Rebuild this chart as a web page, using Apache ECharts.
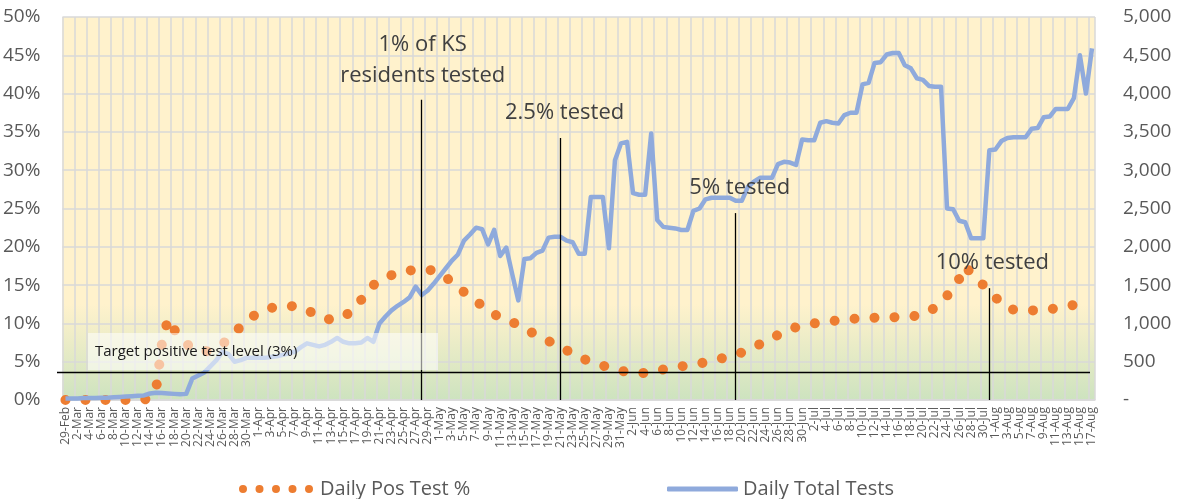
<!DOCTYPE html>
<html>
<head>
<meta charset="utf-8">
<script src="https://cdn.jsdelivr.net/npm/echarts@6/dist/echarts.min.js"></script>
<style>
html,body{margin:0;padding:0;background:#fff;}
#chart{width:1191px;height:499px;}
</style>
</head>
<body>
<div id="chart"></div>
<script>
// ---- Data ----
const monthSpans = [['Feb', 29, 29], ['Mar', 1, 31], ['Apr', 1, 30], ['May', 1, 31], ['Jun', 1, 30], ['Jul', 1, 31], ['Aug', 1, 17]];
const categories = [];
monthSpans.forEach(function (m) { for (let d = m[1]; d <= m[2]; d++) categories.push(d + '-' + m[0]); });

const posPct = [
  0,0,0,0,0,0,0,0,0,0,0,0,0,0,
  0.4,1.3,7.5,10.6,9.2,8.2,7.3,
  6.9,6.5,6.3,6.5,6.8,7.3,8.0,8.7,9.6,10.3,
  10.9,11.4,11.8,12.0,12.2,12.3,12.3,12.2,12.1,11.8,
  11.3,10.8,10.6,10.5,10.5,10.8,11.4,12.0,13.1,14.3,
  15.0,15.6,16.0,16.3,16.6,16.8,16.9,17.0,17.1,17.0,
  16.9,16.6,16.0,15.4,14.7,14.1,13.5,12.9,12.3,11.7,
  11.2,10.8,10.6,10.2,9.7,9.3,8.9,8.5,8.1,7.7,
  7.3,6.9,6.5,6.0,5.6,5.3,5.0,4.7,4.5,4.2,
  4.0,3.8,3.7,3.55,3.5,3.55,3.6,3.75,4.0,4.2,
  4.3,4.4,4.5,4.6,4.75,4.95,5.1,5.3,5.5,5.7,
  5.9,6.2,6.5,6.8,7.3,7.7,8.1,8.5,8.9,9.3,
  9.5,9.7,9.9,10.0,10.1,10.2,10.3,10.4,10.5,10.6,
  10.6,10.7,10.7,10.75,10.75,10.8,10.8,10.85,10.9,10.9,
  11.0,11.2,11.5,12.1,12.8,13.6,14.6,15.8,17.5,16.5,
  15.8,15.0,14.2,13.4,12.7,12.0,11.8,11.7,11.7,11.7,
  11.7,11.75,11.8,12.0,12.2,12.3,12.4,12.6,12.7,12.9
];

const totalTests = [
  20,20,20,25,25,25,30,30,35,40,
  45,50,55,60,85,95,90,85,80,75,80,
  280,320,360,440,520,630,600,500,520,550,
  550,550,550,560,570,590,610,630,690,740,
  720,700,720,760,810,760,740,740,750,810,
  760,1000,1090,1170,1230,1280,1340,1480,1370,1430,
  1520,1620,1720,1820,1900,2080,2160,2250,2230,2030,
  2220,1880,1990,1640,1300,1840,1850,1920,1950,2120,
  2130,2130,2080,2060,1910,1910,2650,2650,2650,1980,
  3130,3350,3370,2700,2680,2680,3480,2350,2260,2250,
  2240,2220,2220,2470,2500,2620,2640,2640,2640,2640,
  2600,2600,2780,2850,2900,2900,2900,3080,3110,3100,
  3070,3400,3390,3390,3620,3640,3620,3610,3720,3750,
  3750,4120,4140,4400,4410,4510,4530,4530,4370,4330,
  4200,4180,4100,4090,4090,2500,2490,2340,2320,2110,
  2110,2110,3260,3270,3380,3420,3430,3430,3430,3540,
  3550,3690,3700,3800,3800,3800,3940,4500,4000,4590
];

const targetLevel = 3.66;
const milestones = [
  { date: '28-Apr', top: 39.2, labelY: 44.3, text: '1% of KS\nresidents tested', dx: 1 },
  { date: '21-May', top: 34.2, labelY: 37.5, text: '2.5% tested', dx: 4 },
  { date: '19-Jun', top: 24.4, labelY: 27.7, text: '5% tested', dx: 4 },
  { date: '31-Jul', top: 14.6, labelY: 17.9, text: '10% tested', dx: 3 }
];

const FONT = '"Open Sans", "Noto Sans", sans-serif';
const chart = echarts.init(document.getElementById('chart'));

const dotsIcon = 'path://M0,4a4,4 0 1,0 8,0a4,4 0 1,0 -8,0Z' +
  'M16.5,4a4,4 0 1,0 8,0a4,4 0 1,0 -8,0Z' +
  'M33,4a4,4 0 1,0 8,0a4,4 0 1,0 -8,0Z' +
  'M49.5,4a4,4 0 1,0 8,0a4,4 0 1,0 -8,0Z' +
  'M66,4a4,4 0 1,0 8,0a4,4 0 1,0 -8,0Z';

const option = {
  animation: false,
  textStyle: { fontFamily: FONT },
  grid: {
    left: 60, right: 96, top: 17, bottom: 99,
    show: true, borderWidth: 0,
    backgroundColor: new echarts.graphic.LinearGradient(0, 0, 0, 1, [
      { offset: 0, color: '#FFF2CC' },
      { offset: 0.75, color: '#FFF2CC' },
      { offset: 1, color: '#CDE3BF' }
    ])
  },
  legend: [
    {
      data: [{ name: 'Daily Pos Test %', icon: dotsIcon }], left: 239, top: 479, padding: 0,
      itemWidth: 74, itemHeight: 8,
      textStyle: { fontSize: 20, color: '#595959', fontFamily: FONT, padding: [0, 0, 0, 2] }
    },
    {
      data: [{ name: 'Daily Total Tests', icon: 'roundRect' }], left: 667, top: 479, padding: 0,
      itemWidth: 71, itemHeight: 5,
      textStyle: { fontSize: 20, color: '#595959', fontFamily: FONT }
    }
  ],
  xAxis: {
    type: 'category', data: categories, boundaryGap: true,
    axisLine: { lineStyle: { color: '#D9D9D9', width: 1.5 } },
    axisTick: { show: false },
    axisLabel: { interval: 1, rotate: 90, fontSize: 12, color: '#595959', margin: 7, fontFamily: FONT },
    splitLine: { show: true, interval: 1, lineStyle: { color: '#D9D9D9', width: 1.5 } }
  },
  yAxis: [
    {
      type: 'value', min: 0, max: 50, interval: 5,
      axisLabel: { formatter: '{value}%', fontSize: 19, color: '#595959', margin: 22, fontFamily: FONT },
      axisLine: { show: false }, axisTick: { show: false },
      splitLine: { lineStyle: { color: '#D9D9D9', width: 1.5 } }
    },
    {
      type: 'value', min: 0, max: 5000, interval: 500,
      axisLabel: {
        formatter: function (v) { return v === 0 ? '-' : v.toLocaleString('en-US'); },
        fontSize: 19, color: '#595959', margin: 28, fontFamily: FONT
      },
      axisLine: { show: false }, axisTick: { show: false },
      splitLine: { show: false }
    }
  ],
  series: [
    {
      name: 'Daily Pos Test %', type: 'line', yAxisIndex: 0, data: posPct,
      symbol: 'none', z: 3,
      lineStyle: { color: '#ED7D31', width: 10, type: [0.01, 20], cap: 'round' },
      itemStyle: { color: '#ED7D31' },
      markLine: {
        silent: true, symbol: 'none', label: { show: false },
        data: [[{ coord: [0, targetLevel], x: 57 }, { coord: [categories.length - 1, targetLevel], x: 1090 }]].concat(
          milestones.map(function (m) { return [{ coord: [m.date, m.top] }, { coord: [m.date, 0] }]; })
        ),
        lineStyle: { color: '#000', width: 1.3, type: 'solid' }
      },
      markPoint: {
        silent: true, symbol: 'circle', symbolSize: 0,
        data: milestones.map(function (m) {
          return {
            coord: [m.date, m.labelY],
            label: {
              show: true, position: 'inside', offset: [m.dx, 0],
              formatter: m.text, fontSize: 22, lineHeight: 31, color: '#404040', fontFamily: FONT, align: 'center'
            }
          };
        })
      }
    },
    {
      name: 'Daily Total Tests', type: 'line', yAxisIndex: 1, data: totalTests,
      symbol: 'none', z: 4,
      lineStyle: { color: '#8FAADC', width: 4.5, join: 'round' },
      itemStyle: { color: '#8FAADC' }
    }
  ],
  graphic: [
    { type: 'rect', z: 100, shape: { x: 88, y: 333, width: 350, height: 37 }, style: { fill: 'rgba(255,255,255,0.55)' } },
    { type: 'text', z: 101, x: 95, y: 352, style: { text: 'Target positive test level (3%)', font: '15px "Open Sans"', fill: '#1a1a1a', textVerticalAlign: 'middle' } }
  ]
};
chart.setOption(option);
</script>
</body>
</html>
